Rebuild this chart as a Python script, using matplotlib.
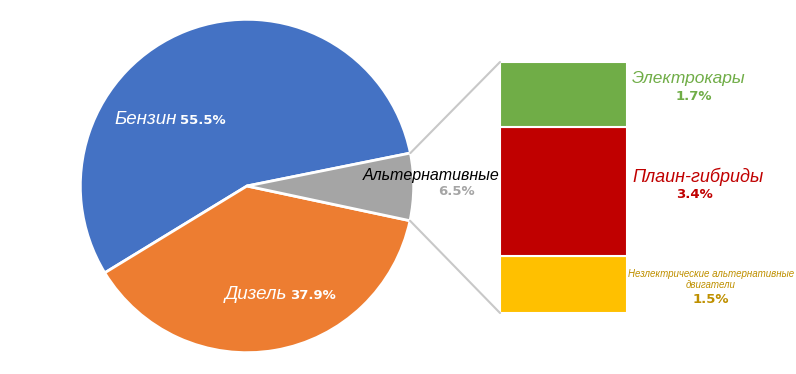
import numpy as np
import matplotlib.pyplot as plt
from matplotlib.patches import ConnectionPatch

# pie data
pie_labels = ["Бензин", "Дизель", "Альтернативные"]
pie_values = [55.5, 37.9, 6.5]
pie_colors = ["#4472C4", "#ED7D31", "#A5A5A5"]

# breakdown of alternatives
alt_labels = ["Незлектрические альтернативные\nдвигатели", "Плаин-гибриды", "Электрокары"]
alt_values = [1.5, 3.4, 1.7]
alt_colors = ["#FFC000", "#C00000", "#70AD47"]
alt_text_colors = ["#BF9000", "#C00000", "#70AD47"]

NARROW = ["Liberation Sans", "DejaVu Sans"]
BOLD = ["DejaVu Sans"]

W, H = 796, 374
fig = plt.figure(figsize=(W / 100, H / 100), dpi=100)


def fx(px):
    return px / W


def fy(py):
    return 1 - py / H


# pie axes
ax1 = fig.add_axes([fx(77), fy(356), 340 / W, 340 / H])
start = 11.4
wedges, _ = ax1.pie(pie_values, colors=pie_colors, startangle=start,
                    counterclock=True,
                    wedgeprops=dict(edgecolor="white", linewidth=2))
ax1.set_xlim(-1.02, 1.02)
ax1.set_ylim(-1.02, 1.02)
ax1.set_aspect("equal")

# stacked bar axes
ax2 = fig.add_axes([fx(500), fy(313), 127 / W, 251 / H])
bottom = 0
for v, c in zip(alt_values, alt_colors):
    ax2.bar(0, v, width=1, bottom=bottom, color=c, edgecolor="white", linewidth=1.5)
    bottom += v
ax2.set_xlim(-0.5, 0.5)
ax2.set_ylim(0, sum(alt_values))
ax2.axis("off")
ax1.axis("off")

# connection lines from gray wedge to bar
theta1, theta2 = wedges[2].theta1, wedges[2].theta2
for ang, yb in [(theta2, sum(alt_values)), (theta1, 0)]:
    a = np.deg2rad(ang)
    con = ConnectionPatch(xyA=(np.cos(a), np.sin(a)), coordsA=ax1.transData,
                          xyB=(-0.5, yb), coordsB=ax2.transData,
                          color="#C8C8C8", linewidth=1.5)
    fig.add_artist(con)

# pie labels
fig.text(fx(177), fy(124), pie_labels[0], color="white", style="italic",
         fontsize=13.5, family=NARROW, ha="right", va="baseline")
fig.text(fx(180), fy(124), f"{pie_values[0]}%", color="white", weight="bold",
         fontsize=9.5, family=BOLD, ha="left", va="baseline")
fig.text(fx(287), fy(299), pie_labels[1], color="white", style="italic",
         fontsize=13.5, family=NARROW, ha="right", va="baseline")
fig.text(fx(290), fy(299), f"{pie_values[1]}%", color="white", weight="bold",
         fontsize=9.5, family=BOLD, ha="left", va="baseline")
fig.text(fx(500), fy(180), pie_labels[2], color="black", style="italic",
         fontsize=11.5, family=NARROW, ha="right", va="baseline")
fig.text(fx(456), fy(195), f"{pie_values[2]}%", color="#A5A5A5", weight="bold",
         fontsize=9.5, family=BOLD, ha="center", va="baseline")

# bar labels
fig.text(fx(632), fy(83), alt_labels[2], color=alt_text_colors[2],
         style="italic", fontsize=12.5, family=NARROW, ha="left", va="baseline")
fig.text(fx(694), fy(100), f"{alt_values[2]}%", color=alt_text_colors[2], weight="bold",
         fontsize=9.5, family=BOLD, ha="center", va="baseline")
fig.text(fx(632), fy(182), alt_labels[1], color=alt_text_colors[1],
         style="italic", fontsize=13, family=NARROW, ha="left", va="baseline")
fig.text(fx(694), fy(198), f"{alt_values[1]}%", color=alt_text_colors[1], weight="bold",
         fontsize=9.5, family=BOLD, ha="center", va="baseline")
fig.text(fx(711), fy(288), alt_labels[0], color=alt_text_colors[0],
         style="italic", fontsize=7, family=NARROW, ha="center", va="baseline",
         multialignment="center", linespacing=1.15)
fig.text(fx(711), fy(303), f"{alt_values[0]}%", color=alt_text_colors[0], weight="bold",
         fontsize=9.5, family=BOLD, ha="center", va="baseline")

fig.savefig("out.png", dpi=100)
